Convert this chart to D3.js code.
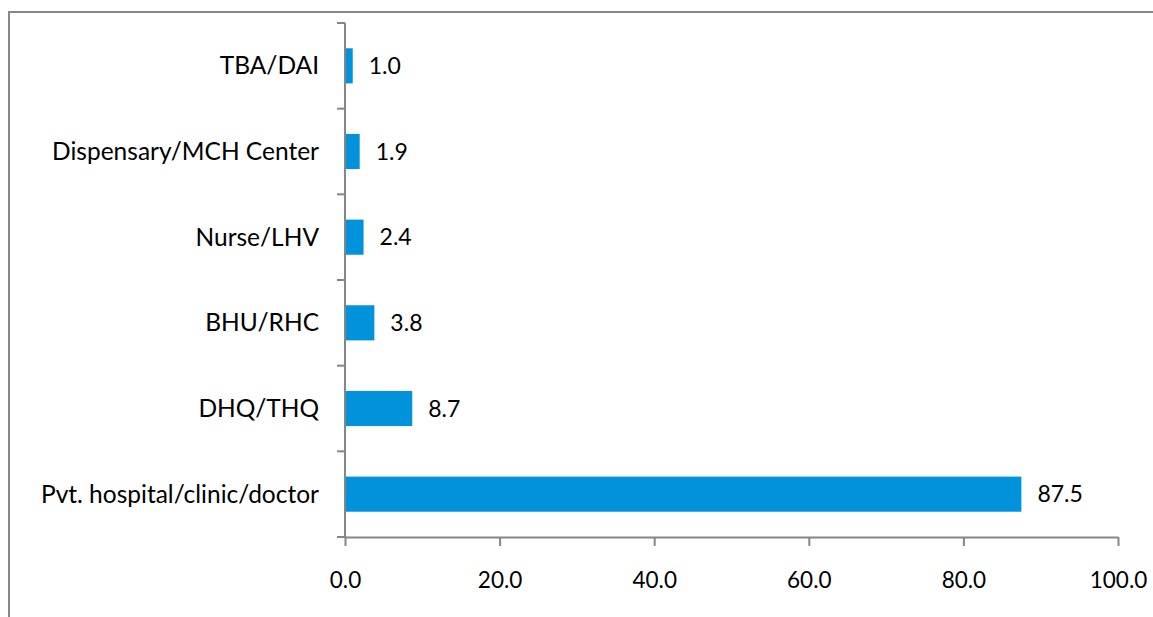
<!DOCTYPE html>
<html>
<head>
<meta charset="utf-8">
<script src="https://cdn.jsdelivr.net/npm/d3@7"></script>
<style>
  body { margin: 0; background: #fff; }
  text { font-family: Lato, "Open Sans", sans-serif; fill: #000; }
</style>
</head>
<body>
<div id="chart"></div>
<script>
// categories, top to bottom as drawn
var categories = ["TBA/DAI", "Dispensary/MCH Center", "Nurse/LHV", "BHU/RHC", "DHQ/THQ", "Pvt. hospital/clinic/doctor"];
var values = [1.0, 1.9, 2.4, 3.8, 8.7, 87.5];
var xTicks = [0, 20, 40, 60, 80, 100];

var width = 1153,
    height = 617;
var margin = {top: 23, left: 345, right: 35, bottom: 80};

var svg = d3.select("#chart").append("svg")
    .attr("width", width)
    .attr("height", height);

// chart frame (clipped on right and bottom like the source)
svg.append("rect")
    .attr("x", 9).attr("y", 12)
    .attr("width", width + 10).attr("height", height + 10)
    .style("fill", "none")
    .style("stroke", "#888")
    .style("stroke-width", 2);

var x = d3.scaleLinear().domain([0, 100]).range([margin.left, 1118]);
var y = d3.scaleBand().domain(categories).range([margin.top, 537]).paddingInner(0.59).paddingOuter(0.295);

var data = categories.map(function(c, i) { return {cat: c, val: values[i]}; });

svg.selectAll("rect.bar")
    .data(data).enter().append("rect")
    .attr("class", "bar")
    .attr("x", x(0))
    .attr("y", function(d) { return y(d.cat); })
    .attr("width", function(d) { return x(d.val) - x(0); })
    .attr("height", y.bandwidth())
    .style("fill", "#0093dc");

// value labels
svg.selectAll("text.val")
    .data(data).enter().append("text")
    .attr("class", "val")
    .attr("x", function(d) { return x(d.val) + 16; })
    .attr("y", function(d) { return y(d.cat) + y.bandwidth() / 2; })
    .attr("dy", "0.35em")
    .style("font-size", "23px")
    .text(function(d) { return d.val.toFixed(1); });

// category axis (left)
var step = (537 - margin.top) / categories.length;
var yAxis = svg.append("g");
yAxis.append("line")
    .attr("x1", x(0)).attr("x2", x(0))
    .attr("y1", margin.top).attr("y2", 537)
    .style("stroke", "#868686").style("stroke-width", 2);
yAxis.selectAll("line.ytick")
    .data(d3.range(categories.length + 1)).enter().append("line")
    .attr("class", "ytick")
    .attr("x1", x(0) - 8).attr("x2", x(0))
    .attr("y1", function(i) { return margin.top + i * step; })
    .attr("y2", function(i) { return margin.top + i * step; })
    .style("stroke", "#868686").style("stroke-width", 2);
yAxis.selectAll("text")
    .data(categories).enter().append("text")
    .attr("x", 319)
    .attr("y", function(d) { return y(d) + y.bandwidth() / 2; })
    .attr("dy", "0.35em")
    .attr("text-anchor", "end")
    .style("font-size", "24.5px")
    .text(function(d) { return d; });

// value axis (bottom)
var xAxis = svg.append("g")
    .attr("transform", "translate(0,537)")
    .call(d3.axisBottom(x).tickValues(xTicks).tickSize(9).tickSizeOuter(0)
        .tickFormat(function(d) { return d.toFixed(1); }));
xAxis.select(".domain").style("stroke", "#868686").style("stroke-width", 2);
xAxis.selectAll(".tick line").style("stroke", "#868686").style("stroke-width", 2);
xAxis.selectAll(".tick text")
    .attr("y", 43)
    .attr("dy", "0.35em")
    .style("font-size", "22.5px")
    .style("font-family", "Lato, sans-serif");
</script>
</body>
</html>
